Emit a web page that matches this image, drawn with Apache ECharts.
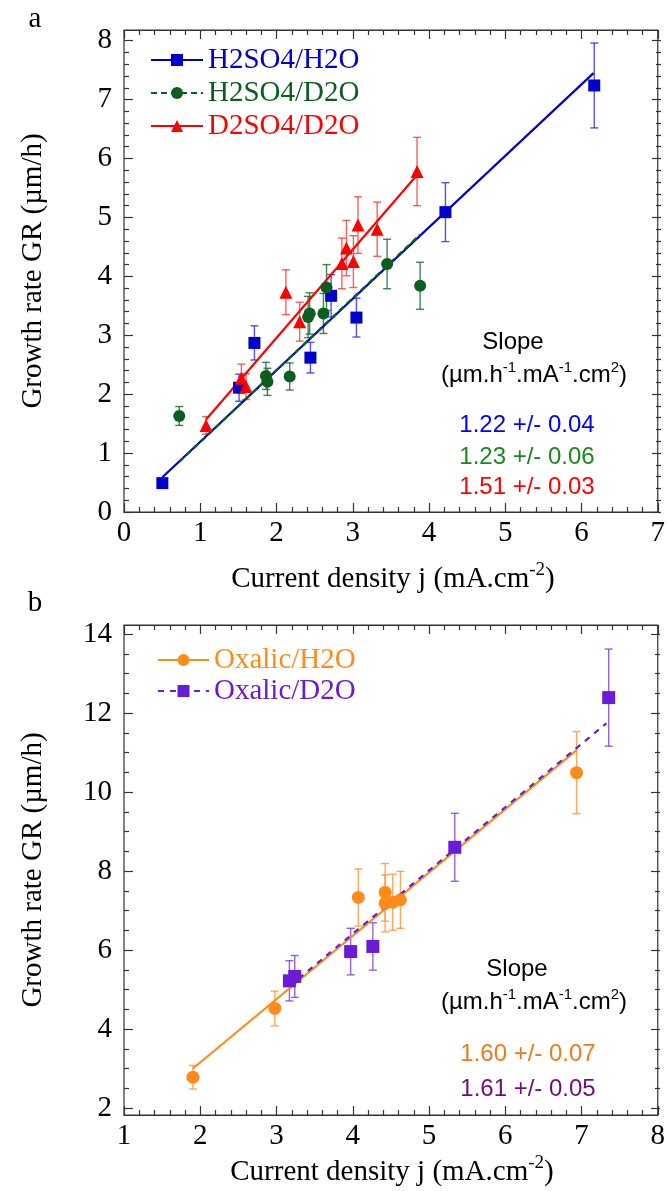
<!DOCTYPE html>
<html><head><meta charset="utf-8">
<script src="https://cdn.jsdelivr.net/npm/echarts@6/dist/echarts.min.js"></script>
<style>html,body{margin:0;padding:0;background:#fff}#c{width:668px;height:1191px}</style>
</head><body><div id="c"></div>
<script>
// ---------- Panel a data (x: current density mA/cm2, y: growth rate um/h, e: error) ----------
const aH2O_x = [0.50, 1.50, 1.70, 2.43, 2.70, 3.03, 4.19, 6.13];
const aH2O_y = [0.49, 2.11, 2.87, 2.62, 3.67, 3.30, 5.09, 7.24];
const aH2O_e = [0.05, 0.23, 0.29, 0.26, 0.36, 0.33, 0.50, 0.72];

const aD2O_x = [0.72, 1.85, 1.87, 2.16, 2.40, 2.42, 2.60, 2.64, 3.43, 3.86];
const aD2O_y = [1.63, 2.31, 2.21, 2.30, 3.31, 3.37, 3.37, 3.81, 4.21, 3.84];
const aD2O_e = [0.16, 0.23, 0.23, 0.23, 0.35, 0.35, 0.34, 0.39, 0.42, 0.40];

const aD2SO4_x = [1.07, 1.53, 1.59, 2.11, 2.29, 2.84, 2.90, 2.99, 3.05, 3.30, 3.82];
const aD2SO4_y = [1.47, 2.27, 2.13, 3.73, 3.23, 4.22, 4.48, 4.25, 4.87, 4.80, 5.78];
const aD2SO4_e = [0.15, 0.24, 0.22, 0.38, 0.33, 0.43, 0.47, 0.44, 0.48, 0.46, 0.58];

// linear fits (end points)
const aFitH2O_x = [0.50, 6.12],  aFitH2O_y = [0.59, 7.45];
const aFitD2O_x = [0.72, 3.86],  aFitD2O_y = [0.85, 4.71];
const aFitD2SO4_x = [1.07, 3.82], aFitD2SO4_y = [1.57, 5.72];

const aSlopes = ['1.22 +/- 0.04', '1.23 +/- 0.06', '1.51 +/- 0.03'];
const aNames = ['H2SO4/H2O', 'H2SO4/D2O', 'D2SO4/D2O'];

// ---------- Panel b data ----------
const bH2O_x = [1.90, 2.97, 4.06, 4.41, 4.41, 4.51, 4.61, 6.91];
const bH2O_y = [2.78, 4.52, 7.33, 7.46, 7.18, 7.21, 7.27, 10.49];
const bH2O_e = [0.30, 0.44, 0.72, 0.73, 0.72, 0.71, 0.72, 1.04];

const bD2O_x = [3.16, 3.23, 3.96, 4.25, 5.32, 7.33];
const bD2O_y = [5.22, 5.33, 5.96, 6.09, 8.60, 12.39];
const bD2O_e = [0.51, 0.53, 0.59, 0.60, 0.86, 1.23];

const bFitH2O_x = [1.90, 6.91], bFitH2O_y = [3.00, 11.06];
const bFitD2O_x = [3.16, 7.30], bFitD2O_y = [5.08, 11.74];

const bSlopes = ['1.60 +/- 0.07', '1.61 +/- 0.05'];
const bNames = ['Oxalic/H2O', 'Oxalic/D2O'];

// ---------- styling ----------
const SERIF = 'Liberation Serif';
const SANS = 'Liberation Sans';
const AX = '#333';
const C = {
  blue: '#0000cc', green: '#0b5e1e', red: '#ff0000', orange: '#ff8c1a', purple: '#6a1bd6'
};
const EB = {
  blue: 'rgba(40,40,230,0.8)', green: 'rgba(20,100,40,0.8)', red: 'rgba(255,40,40,0.75)',
  orange: 'rgba(255,150,60,0.85)', purple: 'rgba(130,70,225,0.85)'
};

function pts(xs, ys) { return xs.map((x, i) => [x, ys[i]]); }
function errs(xs, ys, es) { return xs.map((x, i) => [x, ys[i], es[i]]); }

function errorSeries(xs, ys, es, color, xi, yi) {
  return {
    type: 'custom', xAxisIndex: xi, yAxisIndex: yi, z: 2, silent: true,
    data: errs(xs, ys, es),
    renderItem: function (params, api) {
      const x = api.value(0), y = api.value(1), e = api.value(2);
      const t = api.coord([x, y + e]), b = api.coord([x, y - e]);
      const w = 4, st = { stroke: color, lineWidth: 1.4 };
      return { type: 'group', children: [
        { type: 'line', shape: { x1: t[0], y1: t[1], x2: b[0], y2: b[1] }, style: st },
        { type: 'line', shape: { x1: t[0] - w, y1: t[1], x2: t[0] + w, y2: t[1] }, style: st },
        { type: 'line', shape: { x1: b[0] - w, y1: b[1], x2: b[0] + w, y2: b[1] }, style: st }
      ]};
    }
  };
}
function scatterSeries(name, xs, ys, symbol, size, color, xi, yi) {
  return { type: 'scatter', name: name, xAxisIndex: xi, yAxisIndex: yi, z: 4, silent: true,
    symbol: symbol, symbolSize: size, itemStyle: { color: color, opacity: 1 }, data: pts(xs, ys) };
}
function fitSeries(name, xs, ys, symbol, color, dash, xi, yi) {
  return { type: 'line', name: name, xAxisIndex: xi, yAxisIndex: yi, z: 3, silent: true,
    symbol: symbol, showSymbol: false, symbolSize: 12,
    itemStyle: { color: color },
    lineStyle: { color: color, width: 2.2, type: dash },
    data: pts(xs, ys) };
}

function frameX(grid, pos, min, max, labels) {
  return {
    type: 'value', gridIndex: grid, position: pos, min: min, max: max, interval: 1,
    axisLine: { show: true, onZero: false, lineStyle: { color: AX, width: 1.2 } },
    axisTick: { show: true, inside: true, length: 9, lineStyle: { color: AX, width: 1.2 } },
    minorTick: { show: true, splitNumber: 5, length: 5, lineStyle: { color: AX, width: 1.2 } },
    splitLine: { show: false },
    axisLabel: { show: labels, margin: 7, color: '#000', fontFamily: SERIF, fontSize: 29 }
  };
}
function dataY(grid, pos, min, max, interval, minor, labels) {
  return {
    type: 'value', gridIndex: grid, position: pos, min: min, max: max, interval: interval,
    axisLine: { show: false },
    axisTick: { show: true, inside: true, length: 9, lineStyle: { color: AX, width: 1.2 } },
    minorTick: { show: true, splitNumber: minor, length: 5, lineStyle: { color: AX, width: 1.2 } },
    splitLine: { show: false },
    axisLabel: { show: labels, margin: 12, color: '#000', fontFamily: SERIF, fontSize: 29 }
  };
}
function hiddenX(grid, min, max) { return { type: 'value', gridIndex: grid, min: min, max: max, show: false }; }
function hiddenY(grid) { return { type: 'value', gridIndex: grid, min: 0, max: 1, show: false }; }

const frameStyle = { show: true, borderColor: AX, borderWidth: 1.2, backgroundColor: 'transparent' };

const option = {
  animation: false,
  backgroundColor: '#fff',
  grid: [
    Object.assign({ left: 124, top: 30, width: 537, height: 482 }, frameStyle),   // 0 frame a
    { left: 124, top: 40.7, width: 537, height: 471.3, show: false },             // 1 data a
    Object.assign({ left: 124, top: 625, width: 536, height: 490 }, frameStyle),  // 2 frame b
    { left: 124, top: 634, width: 536, height: 474, show: false }                 // 3 data b
  ],
  xAxis: [
    frameX(0, 'bottom', 0, 7, true),
    frameX(0, 'top', 0, 7, false),
    hiddenX(1, 0, 7),
    frameX(2, 'bottom', 1, 8, true),
    frameX(2, 'top', 1, 8, false),
    hiddenX(3, 1, 8)
  ],
  yAxis: [
    hiddenY(0),
    dataY(1, 'left', 0, 8, 1, 5, true),
    dataY(1, 'right', 0, 8, 1, 5, false),
    hiddenY(2),
    dataY(3, 'left', 2, 14, 2, 4, true),
    dataY(3, 'right', 2, 14, 2, 4, false)
  ],
  legend: [
    { orient: 'vertical', left: 150, top: 45, padding: 0, itemWidth: 52, itemHeight: 15, itemGap: 3,
      selectedMode: false,
      textStyle: { fontFamily: SERIF, fontSize: 29, lineHeight: 30 },
      data: [
        { name: aNames[0], textStyle: { color: C.blue } },
        { name: aNames[1], textStyle: { color: C.green } },
        { name: aNames[2], textStyle: { color: C.red } }
      ] },
    { orient: 'vertical', left: 157, top: 645, padding: 0, itemWidth: 51, itemHeight: 15, itemGap: 1,
      selectedMode: false,
      textStyle: { fontFamily: SERIF, fontSize: 29, lineHeight: 30 },
      data: [
        { name: bNames[0], textStyle: { color: C.orange } },
        { name: bNames[1], textStyle: { color: C.purple } }
      ] }
  ],
  series: [
    // panel a
    fitSeries(aNames[0], aFitH2O_x, aFitH2O_y, 'rect', C.blue, 'solid', 2, 1),
    fitSeries(aNames[1], aFitD2O_x, aFitD2O_y, 'circle', C.green, [6, 4], 2, 1),
    fitSeries(aNames[2], aFitD2SO4_x, aFitD2SO4_y, 'triangle', C.red, 'solid', 2, 1),
    errorSeries(aH2O_x, aH2O_y, aH2O_e, EB.blue, 2, 1),
    errorSeries(aD2O_x, aD2O_y, aD2O_e, EB.green, 2, 1),
    errorSeries(aD2SO4_x, aD2SO4_y, aD2SO4_e, EB.red, 2, 1),
    scatterSeries('a-h2o-pts', aH2O_x, aH2O_y, 'rect', 12, C.blue, 2, 1),
    scatterSeries('a-d2o-pts', aD2O_x, aD2O_y, 'circle', 12, C.green, 2, 1),
    scatterSeries('a-d2so4-pts', aD2SO4_x, aD2SO4_y, 'triangle', 13, C.red, 2, 1),
    // panel b
    fitSeries(bNames[0], bFitH2O_x, bFitH2O_y, 'circle', C.orange, 'solid', 5, 4),
    fitSeries(bNames[1], bFitD2O_x, bFitD2O_y, 'rect', C.purple, [6, 6], 5, 4),
    errorSeries(bH2O_x, bH2O_y, bH2O_e, EB.orange, 5, 4),
    errorSeries(bD2O_x, bD2O_y, bD2O_e, EB.purple, 5, 4),
    scatterSeries('b-h2o-pts', bH2O_x, bH2O_y, 'circle', 13, C.orange, 5, 4),
    scatterSeries('b-d2o-pts', bD2O_x, bD2O_y, 'rect', 13, C.purple, 5, 4)
  ],
  graphic: { elements: [] }
};

function txt(x, y, text, font, color, rot) {
  return { type: 'text', x: x, y: y, rotation: rot || 0, silent: true,
    style: { text: text, font: font, fill: color, align: 'center', verticalAlign: 'middle',
             textAlign: 'center', textVerticalAlign: 'middle' } };
}
function richTxt(x, y, text, rich, font, color, rot) {
  return { type: 'text', x: x, y: y, rotation: rot || 0, silent: true,
    style: { text: text, rich: rich, font: font, fill: color, align: 'center', verticalAlign: 'middle',
             textAlign: 'center', textVerticalAlign: 'middle' } };
}
const F29 = '29px "Liberation Serif"';
const F19 = '19px "Liberation Serif"';
const S24 = '24px "Liberation Sans"';
const S15 = '15px "Liberation Sans"';
const serifRich = {
  n: { font: F29, fontFamily: SERIF, fontSize: 29, fill: '#000', lineHeight: 30, padding: [6, 0, 0, 0] },
  s: { font: F19, fontFamily: SERIF, fontSize: 19, fill: '#000', lineHeight: 19, verticalAlign: 'top' }
};
const sansRich = {
  n: { font: S24, fontFamily: SANS, fontSize: 24, fill: '#000', lineHeight: 26, padding: [4, 0, 0, 0] },
  s: { font: S15, fontFamily: SANS, fontSize: 15, fill: '#000', lineHeight: 15, verticalAlign: 'top' }
};
const G = option.graphic.elements;
// panel labels
G.push(txt(35, 19, 'a', F29, '#000'));
G.push(txt(35, 603, 'b', F29, '#000'));
// axis titles
G.push(txt(33, 271, 'Growth rate GR (µm/h)', F29, '#000', Math.PI / 2));
G.push(txt(33, 870, 'Growth rate GR (µm/h)', F29, '#000', Math.PI / 2));
G.push(richTxt(393, 576, '{n|Current density j (mA.cm}{s|-2}{n|)}', serifRich, F29, '#000'));
G.push(richTxt(392, 1169, '{n|Current density j (mA.cm}{s|-2}{n|)}', serifRich, F29, '#000'));
// slope annotations
G.push(txt(513, 342, 'Slope', S24, '#000'));
G.push(richTxt(534, 373, '{n|(µm.h}{s|-1}{n|.mA}{s|-1}{n|.cm}{s|2}{n|)}', sansRich, S24, '#000'));
G.push(txt(527, 425, aSlopes[0], S24, '#0000ff'));
G.push(txt(527, 457, aSlopes[1], S24, '#1a8a1a'));
G.push(txt(527, 487, aSlopes[2], S24, '#ff0000'));
G.push(txt(517, 969, 'Slope', S24, '#000'));
G.push(richTxt(534, 1000, '{n|(µm.h}{s|-1}{n|.mA}{s|-1}{n|.cm}{s|2}{n|)}', sansRich, S24, '#000'));
G.push(txt(528, 1054, bSlopes[0], S24, '#ee7a1a'));
G.push(txt(528, 1089, bSlopes[1], S24, '#6b0f7a'));

const chart = echarts.init(document.getElementById('c'), null, { renderer: 'canvas' });
chart.setOption(option);
</script>
</body></html>
